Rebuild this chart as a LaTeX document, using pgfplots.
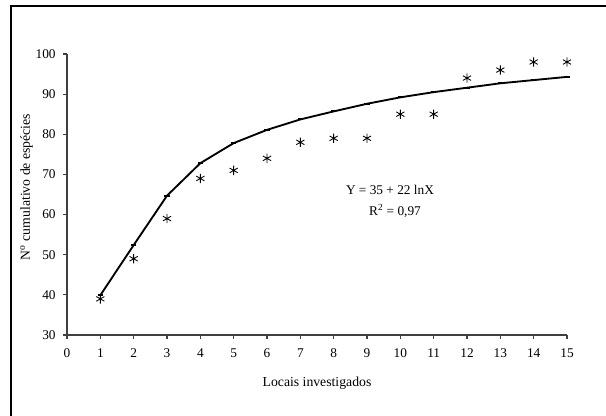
\documentclass[border=0pt]{standalone}
\usepackage{pgfplots}
\pgfplotsset{compat=1.18}
\usepackage{fontspec}
\setmainfont{Liberation Serif}

% 1 px of the reference = 0.75pt
\begin{document}
\begin{tikzpicture}
\fontsize{10}{12}\selectfont
\useasboundingbox (-50.25pt,-60.75pt) rectangle (404.25pt,251.25pt);
% outer frame (left and top edges visible)
\draw[line width=1pt] (-42pt,-70pt) -- (-42pt,246.75pt) -- (420pt,246.75pt);

\begin{axis}[
    at={(0,0)}, anchor=south west,
    scale only axis,
    width=375pt, height=210.75pt,
    xmin=0, xmax=15, ymin=30, ymax=100,
    axis x line*=bottom, axis y line*=left,
    axis line style={line width=1.1pt, black!75, -},
    xtick={0,1,...,15}, ytick={30,40,...,100},
    tick align=outside, tick style={black!75, line width=0.8pt},
    major tick length=3pt,
    /pgf/number format/assume math mode=true,
    tick label style={font=\fontsize{10}{12}\selectfont},
    xticklabel style={yshift=-4pt},
    yticklabel style={xshift=-2pt},
    xlabel={Locais investigados},
    ylabel={N\textsuperscript{o} cumulativo de espécies},
    label style={font=\fontsize{10.3}{12}\selectfont},
    x label style={at={(axis description cs:0.5,-0.171)}, anchor=center},
    y label style={at={(axis description cs:-0.081,0.527)}, anchor=center},
    clip=false,
]
% fitted curve
\addplot[black, line width=1.4pt, mark=-, mark size=2pt,
    mark options={line width=1.4pt}]
coordinates {
    (1,39.9) (2,52.4) (3,64.7) (4,72.8) (5,77.8) (6,81.1) (7,83.7)
    (8,85.7) (9,87.6) (10,89.2) (11,90.5) (12,91.6) (13,92.7)
    (14,93.5) (15,94.3)
};
% observed values
\addplot[black, only marks, mark=asterisk, mark size=3.5pt,
    mark options={line width=0.65pt}]
coordinates {
    (1,39) (2,49) (3,59) (4,69) (5,71) (6,74) (7,78) (8,79)
    (9,79) (10,85) (11,85) (12,94) (13,96) (14,98) (15,98)
};
\node[anchor=center] at (axis cs:9.69,66.1) {Y = 35 + 22 lnX};
\node[anchor=center] at (axis cs:9.84,60.9) {R\textsuperscript{2} = 0,97};
\end{axis}
\end{tikzpicture}
\end{document}
